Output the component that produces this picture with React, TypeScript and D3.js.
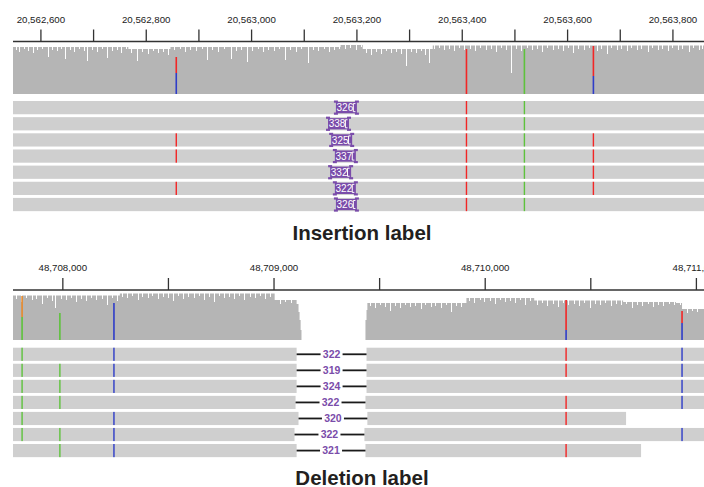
import React, { useEffect, useRef } from "react";
import * as d3 from "d3";

// ---------- insertion example: view 20,562,547 - 20,563,859 ----------
const insStart = 20562547;
const insEnd = 20563859;
const insLabelTicks = [20562600, 20562800, 20563000, 20563200, 20563400, 20563600, 20563800];
const insMinorTicks = [20562700, 20562900, 20563100, 20563300, 20563500, 20563700];

// coverage envelope: [offset from view start (bp), depth]
const insCoverageSteps = [[0, 47], [219, 45], [299, 47], [622, 49], [664, 45], [797, 48.5]];
// coverage dips: [offset (bp), drop in depth]
const insCoverageDips = [
  [6, 3], [12, 5], [21, 2], [29, 4], [38, 6], [46, 3], [55, 2], [66, 10], [74, 3], [84, 4],
  [91, 2], [99, 12], [108, 3], [116, 5], [125, 2], [135, 4], [141, 14], [150, 3], [160, 5],
  [169, 2], [179, 11], [188, 4], [198, 3], [205, 6], [215, 2], [224, 4], [236, 12], [245, 3],
  [256, 5], [266, 2], [275, 4], [285, 3], [294, 6], [306, 3], [317, 2], [327, 5], [336, 3],
  [347, 4], [359, 2], [368, 13], [378, 3], [389, 5], [400, 2], [414, 12], [423, 4], [433, 3],
  [444, 15], [454, 4], [465, 2], [475, 5], [484, 3], [496, 4], [505, 2], [517, 13], [526, 3],
  [537, 5], [547, 2], [560, 16], [570, 3], [579, 4], [591, 2], [600, 5], [610, 3], [619, 2],
  [631, 4], [640, 3], [652, 5], [661, 2], [671, 4], [680, 6], [690, 3], [699, 5], [709, 2],
  [718, 4], [728, 3], [737, 5], [746, 17], [756, 3], [765, 4], [775, 2], [782, 6], [790, 14],
  [799, 3], [809, 2], [818, 4], [828, 3], [837, 5], [847, 2], [856, 4], [868, 3], [877, 5],
  [887, 2], [898, 4], [908, 3], [917, 6], [927, 2], [936, 4], [946, 27], [955, 3], [965, 5],
  [976, 2], [986, 4], [995, 3], [1005, 6], [1014, 2], [1026, 4], [1035, 3], [1045, 5],
  [1054, 2], [1064, 7], [1073, 3], [1085, 4], [1094, 2], [1108, 5], [1117, 3], [1127, 8],
  [1136, 2], [1146, 4], [1155, 3], [1165, 5], [1174, 2], [1184, 4], [1193, 3], [1205, 6],
  [1214, 2], [1224, 4], [1233, 3], [1243, 5], [1252, 2], [1262, 4], [1271, 3], [1283, 6],
  [1292, 2], [1302, 4], [1309, 3],
];
// allele counts at variant sites, stacked A, C, G, T from the bottom
const insCoverageAlleles = [
  { pos: 310, counts: [["C", 21], ["T", 16]] },
  { pos: 861, counts: [["T", 45]] },
  { pos: 971, counts: [["A", 45]] },
  { pos: 1102, counts: [["C", 18], ["T", 30]] },
];
const insReadStarts = [0, 0, 0, 0, 0, 0, 0];
const insReadEnds = [1312, 1312, 1312, 1312, 1312, 1312, 1312];
const insReadMismatches = [
  [[861, "T"], [971, "A"]],
  [[861, "T"], [971, "A"]],
  [[310, "T"], [861, "T"], [971, "A"], [1102, "T"]],
  [[310, "T"], [861, "T"], [971, "A"], [1102, "T"]],
  [[861, "T"], [971, "A"], [1102, "T"]],
  [[310, "T"], [861, "T"], [971, "A"], [1102, "T"]],
  [[861, "T"], [971, "A"]],
];
const insInsertionPos = [634, 619, 625, 632, 623, 632, 634];
const insInsertionSizes = [326, 338, 325, 337, 332, 322, 326];

// ---------- deletion example: view 48,707,764 - 48,711,036 ----------
const delStart = 48707764;
const delEnd = 48711036;
const delLabelTicks = [48708000, 48709000, 48710000, 48711000];
const delMinorTicks = [48708500, 48709500, 48710500];

const delCoverageSteps = [
  [0, 44.5], [506, 46.5], [1239, 40], [1343, 36], [1352, 28], [1357, 20], [1362, 10],
  [1366, 0], [1669, 20], [1674, 30], [1678, 37], [2147, 42], [2468, 39.5], [2889, 38],
  [3139, 37], [3168, 31],
];
const delCoverageDips = [
  [15, 3], [40, 6], [62, 2], [88, 4], [110, 3], [135, 8], [160, 2], [185, 5], [200, 12],
  [228, 3], [250, 4], [275, 2], [300, 6], [322, 3], [348, 5], [370, 2], [395, 4], [420, 3],
  [445, 9], [468, 2], [492, 5], [515, 3], [540, 4], [565, 2], [590, 6], [612, 3], [638, 4],
  [660, 2], [685, 5], [710, 3], [735, 4], [758, 7], [782, 2], [806, 5], [830, 3], [855, 4],
  [880, 2], [905, 6], [928, 3], [952, 8], [975, 2], [1000, 4], [1024, 3], [1048, 5],
  [1072, 2], [1096, 6], [1120, 3], [1145, 4], [1168, 2], [1192, 5], [1215, 3], [1262, 4],
  [1290, 2], [1315, 3],
  [1690, 3], [1712, 5], [1738, 2], [1760, 4], [1785, 8], [1808, 3], [1832, 5], [1856, 2],
  [1880, 4], [1905, 3], [1930, 6], [1952, 2], [1978, 4], [2000, 3], [2025, 5], [2050, 2],
  [2072, 9], [2096, 3], [2120, 4], [2160, 3], [2185, 5], [2210, 2], [2232, 4], [2258, 3],
  [2282, 6], [2305, 2], [2330, 4], [2355, 3], [2378, 5], [2400, 2], [2425, 7], [2450, 3],
  [2480, 4], [2505, 2], [2530, 5], [2555, 3], [2580, 6], [2605, 2], [2630, 4], [2655, 3],
  [2680, 5], [2705, 2], [2730, 7], [2755, 3], [2780, 4], [2805, 2], [2830, 5], [2855, 3],
  [2880, 4], [2905, 2], [2930, 6], [2955, 3], [2980, 4], [3005, 2], [3030, 5], [3055, 3],
  [3080, 4], [3105, 2], [3130, 3], [3160, 2], [3190, 4], [3215, 2], [3240, 3],
];
const delCoverageAlleles = [
  { pos: 43, counts: [["A", 23], ["G", 21]] },
  { pos: 222, counts: [["A", 27]] },
  { pos: 478, counts: [["C", 37]] },
  { pos: 2619, counts: [["C", 10], ["T", 30]] },
  { pos: 3168, counts: [["C", 17], ["T", 12]] },
];
const delLeftEnds = [1343, 1343, 1343, 1338, 1352, 1333, 1343];
const delRightStarts = [1674, 1674, 1674, 1669, 1678, 1664, 1669];
const delRightEnds = [3272, 3272, 3272, 3272, 2903, 3272, 2974];
const delSizes = [322, 319, 324, 322, 320, 322, 321];
const delReadMismatches = [
  [[43, "A"], [478, "C"], [2619, "T"], [3168, "C"]],
  [[43, "A"], [222, "A"], [478, "C"], [2619, "T"], [3168, "C"]],
  [[43, "A"], [222, "A"], [478, "C"], [3168, "C"]],
  [[43, "A"], [222, "A"], [2619, "T"], [3168, "C"]],
  [[43, "A"], [478, "C"], [2619, "T"]],
  [[43, "A"], [222, "A"], [478, "C"], [3168, "C"]],
  [[222, "A"], [478, "C"], [2619, "T"]],
];

const BASE_COLORS = { A: "#5ec23c", C: "#2f3dc8", G: "#e8892a", T: "#f22626" };
const FONT = "'Liberation Sans', Arial, Helvetica, sans-serif";
const PURPLE = "#7a4caa";
const fmt = d3.format(",");

const drawPanel = (svg, p) => {
  const x = d3.scaleLinear().domain([p.start, p.end]).range([13, 704]);
  const xo = (off) => x(p.start + off);
  const g = svg.append("g");

  // ruler
  g.append("line")
    .attr("x1", 13).attr("x2", 704)
    .attr("y1", p.axisY).attr("y2", p.axisY)
    .attr("stroke", "#333").attr("stroke-width", 1.4);

  g.append("g")
    .selectAll("line")
    .data([...p.labelTicks, ...p.minorTicks])
    .join("line")
    .attr("x1", (d) => x(d)).attr("x2", (d) => x(d))
    .attr("y1", p.axisY - 12).attr("y2", p.axisY)
    .attr("stroke", "#333").attr("stroke-width", 1.3);

  g.append("g")
    .selectAll("text")
    .data(p.labelTicks)
    .join("text")
    .attr("x", (d) => x(d))
    .attr("y", p.axisY - 19)
    .attr("text-anchor", "middle")
    .attr("font-family", FONT)
    .attr("font-size", 9.7)
    .attr("fill", "#222")
    .text((d) => fmt(d));

  // coverage track, drawn as one stepped area
  const y = d3.scaleLinear().domain([0, 50]).range([p.covBottom, p.covBottom - 50]);
  const span = p.end - p.start;
  const stepPts = [...p.steps, [span, p.steps[p.steps.length - 1][1]]];
  const area = d3
    .area()
    .x((d) => xo(d[0]))
    .y0(y(0))
    .y1((d) => y(d[1]))
    .curve(d3.curveStepAfter);
  g.append("path").datum(stepPts).attr("d", area).attr("fill", "#b5b5b5");

  const depthAt = (off) => {
    let d = 0;
    p.steps.forEach((s) => {
      if (off >= s[0]) d = s[1];
    });
    return d;
  };
  g.append("g")
    .attr("shape-rendering", "crispEdges")
    .selectAll("rect")
    .data(p.dips)
    .join("rect")
    .attr("x", (d) => Math.round(xo(d[0])))
    .attr("width", 1)
    .attr("y", (d) => y(depthAt(d[0])) - 1)
    .attr("height", (d) => y(depthAt(d[0]) - d[1]) - y(depthAt(d[0])) + 1)
    .attr("fill", "#fff");

  const alleleRects = [];
  p.alleles.forEach((a) => {
    let acc = 0;
    a.counts.forEach(([base, c]) => {
      alleleRects.push({ pos: a.pos, base, lo: acc, hi: acc + c });
      acc += c;
    });
  });
  g.append("g")
    .selectAll("rect")
    .data(alleleRects)
    .join("rect")
    .attr("x", (d) => xo(d.pos) - 0.8)
    .attr("width", 1.6)
    .attr("y", (d) => y(d.hi))
    .attr("height", (d) => y(d.lo) - y(d.hi))
    .attr("fill", (d) => BASE_COLORS[d.base]);

  // reads
  const rows = d3.range(p.segments.length);
  const band = d3.scaleBand().domain(rows).range(p.rowRange).paddingInner(0.18).paddingOuter(0.09);
  const bh = band.bandwidth();

  rows.forEach((r) => {
    const rg = g.append("g");
    const top = band(r);
    rg.selectAll("rect.read")
      .data(p.segments[r])
      .join("rect")
      .attr("class", "read")
      .attr("x", (d) => xo(d[0]))
      .attr("width", (d) => xo(d[1]) - xo(d[0]))
      .attr("y", top)
      .attr("height", bh)
      .attr("fill", "#cfcfcf");

    rg.selectAll("rect.mm")
      .data(p.mismatches[r])
      .join("rect")
      .attr("class", "mm")
      .attr("x", (d) => xo(d[0]) - 0.7)
      .attr("width", 1.4)
      .attr("y", top)
      .attr("height", bh)
      .attr("fill", (d) => BASE_COLORS[d[1]]);

    if (p.insertions) {
      const cx = xo(p.insertions.pos[r]);
      const x0 = cx - 12;
      const x1 = cx + 11;
      const ib = rg.append("g").attr("fill", PURPLE);
      ib.append("rect").attr("x", x0 + 1).attr("y", top + 1).attr("width", x1 - x0 - 2).attr("height", bh - 2);
      [x0 - 1, x1 - 3].forEach((cxp) => {
        ib.append("rect").attr("x", cxp).attr("y", top - 0.5).attr("width", 4).attr("height", 2.2);
        ib.append("rect").attr("x", cxp).attr("y", top + bh - 1.7).attr("width", 4).attr("height", 2.2);
      });
      rg.append("path")
        .attr("d", `M${x1 - 2.5},${top + 2.6}H${x1 - 4.6}V${top + bh - 2.6}H${x1 - 2.5}`)
        .attr("fill", "none")
        .attr("stroke", "#fff")
        .attr("stroke-width", 1);
      rg.append("text")
        .attr("x", x0 + 10)
        .attr("y", top + bh / 2 + 3.6)
        .attr("text-anchor", "middle")
        .attr("font-family", FONT)
        .attr("font-size", 10)
        .attr("fill", "#fff")
        .text(p.insertions.sizes[r]);
    }

    if (p.deletions) {
      const xl = xo(p.deletions.leftEnds[r]);
      const xr = xo(p.deletions.rightStarts[r]);
      const cx = (xl + xr) / 2;
      const my = top + bh / 2;
      rg.selectAll("line.del")
        .data([[xl, cx - 11], [cx + 11, xr]])
        .join("line")
        .attr("class", "del")
        .attr("x1", (d) => d[0]).attr("x2", (d) => d[1])
        .attr("y1", my).attr("y2", my)
        .attr("stroke", "#1a1a1a").attr("stroke-width", 1.8);
      rg.append("text")
        .attr("x", cx)
        .attr("y", my + 3.8)
        .attr("text-anchor", "middle")
        .attr("font-family", FONT)
        .attr("font-weight", "bold")
        .attr("font-size", 10.5)
        .attr("fill", PURPLE)
        .text(p.deletions.sizes[r]);
    }
  });

  g.append("text")
    .attr("x", 362)
    .attr("y", p.titleY)
    .attr("text-anchor", "middle")
    .attr("font-family", FONT)
    .attr("font-weight", "bold")
    .attr("font-size", 20.5)
    .attr("fill", "#231f20")
    .text(p.title);
};

const App = () => {
  const svgRef = useRef(null);

  useEffect(() => {
    const svg = d3.select(svgRef.current);
    svg.selectAll("*").remove();

    drawPanel(svg, {
      start: insStart,
      end: insEnd,
      labelTicks: insLabelTicks,
      minorTicks: insMinorTicks,
      axisY: 41.5,
      covBottom: 94,
      steps: insCoverageSteps,
      dips: insCoverageDips,
      alleles: insCoverageAlleles,
      rowRange: [99.55, 212.6],
      segments: insReadStarts.map((s, i) => [[s, insReadEnds[i]]]),
      mismatches: insReadMismatches,
      insertions: { pos: insInsertionPos, sizes: insInsertionSizes },
      title: "Insertion label",
      titleY: 240,
    });

    drawPanel(svg, {
      start: delStart,
      end: delEnd,
      labelTicks: delLabelTicks,
      minorTicks: delMinorTicks,
      axisY: 290,
      covBottom: 340,
      steps: delCoverageSteps,
      dips: delCoverageDips,
      alleles: delCoverageAlleles,
      rowRange: [346.26, 458.6],
      segments: delLeftEnds.map((e, i) => [[0, e], [delRightStarts[i], delRightEnds[i]]]),
      mismatches: delReadMismatches,
      deletions: { leftEnds: delLeftEnds, rightStarts: delRightStarts, sizes: delSizes },
      title: "Deletion label",
      titleY: 485,
    });
  }, []);

  return (
    <div style={{ position: "absolute", left: 0, top: 0, width: 704, height: 487, background: "#fff" }}>
      <svg ref={svgRef} width={704} height={487} style={{ display: "block" }} />
    </div>
  );
};

export default App;
